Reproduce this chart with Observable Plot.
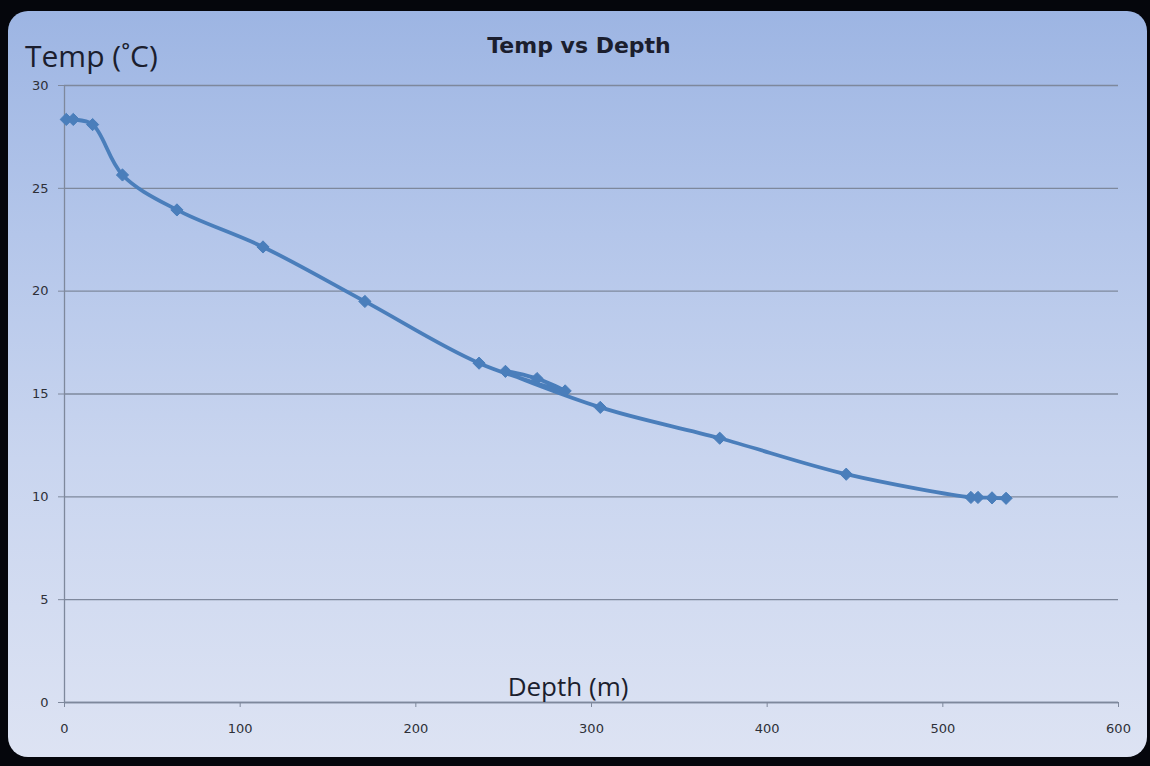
<!DOCTYPE html>
<html>
<head>
<meta charset="utf-8">
<script src="https://cdn.jsdelivr.net/npm/d3@7"></script>
<script src="https://cdn.jsdelivr.net/npm/@observablehq/plot@0.6"></script>
<style>
  html, body { margin: 0; padding: 0; background: #05060c; }
  #wrap { position: relative; width: 1150px; height: 766px; background: #05060c; overflow: hidden; }
  #panel { position: absolute; left: 8px; top: 11px; width: 1139px; height: 746px; border-radius: 20px;
           background: linear-gradient(to bottom, #9db5e3 0%, #b4c6ea 30%, #c9d5ef 60%, #dde3f3 100%); }
  #chart { position: absolute; left: 0; top: 0; }
  .lbl { position: absolute; color: #1b1e2e; white-space: nowrap; line-height: 1; }
  #title { font-family: "DejaVu Sans", sans-serif; font-weight: bold; font-size: 22px; left: 579px; top: 35px; transform: translateX(-50%); }
  #ylab { font-family: "Open Sans", sans-serif; font-size: 30px; left: 25px; top: 41px; }
  #xlab { font-family: "Open Sans", sans-serif; font-size: 26px; left: 568px; top: 673px; transform: translateX(-50%); }
</style>
</head>
<body>
<div id="wrap">
  <div id="panel"></div>
  <div id="chart"></div>
  <div class="lbl" id="title">Temp vs Depth</div>
  <div class="lbl" id="ylab">Temp (˚C)</div>
  <div class="lbl" id="xlab">Depth (m)</div>
</div>
<script>
// Depth (m) and temperature (°C), in the order the series is drawn
const depth = [1, 5, 16, 33, 64, 113, 171, 236, 285, 269, 251, 305, 373, 445, 516, 520, 528, 536];
const temp  = [28.35, 28.35, 28.1, 25.65, 23.95, 22.15, 19.5, 16.5, 15.15, 15.75, 16.1, 14.35, 12.85, 11.1, 9.97, 9.97, 9.95, 9.93];
const xTicks = [0, 100, 200, 300, 400, 500, 600];
const yTicks = [0, 5, 10, 15, 20, 25, 30];

const data = depth.map((d, i) => ({depth: d, temp: temp[i]}));

const lineColor = "#4a7ebb";
const gridColor = "#7e889c";

const chart = Plot.plot({
  width: 1150,
  height: 766,
  marginLeft: 64,
  marginRight: 32,
  marginTop: 85,
  marginBottom: 64,
  style: {background: "transparent", fontFamily: "DejaVu Sans, sans-serif", fontSize: "13px", color: "#2e3038"},
  x: {domain: [0, 600]},
  y: {domain: [0, 30]},
  marks: [
    Plot.gridY(yTicks, {stroke: gridColor, strokeOpacity: 1, strokeWidth: 1.3}),
    Plot.ruleX([0], {stroke: gridColor, strokeWidth: 1.3}),
    Plot.ruleY([0], {stroke: gridColor, strokeWidth: 1.3}),
    Plot.axisY({ticks: yTicks, tickSize: 6, tickPadding: 10, label: null, stroke: gridColor, fontSize: 13}),
    Plot.axisX({ticks: xTicks, tickSize: 5, tickPadding: 16, label: null, stroke: gridColor, fontSize: 13}),
    Plot.line(data, {x: "depth", y: "temp", stroke: lineColor, strokeWidth: 3.8, curve: "catmull-rom"}),
    Plot.dot(data, {x: "depth", y: "temp", symbol: "diamond2", r: 5.5, fill: lineColor, stroke: lineColor, strokeWidth: 1})
  ]
});
document.getElementById("chart").appendChild(chart);
</script>
</body>
</html>
